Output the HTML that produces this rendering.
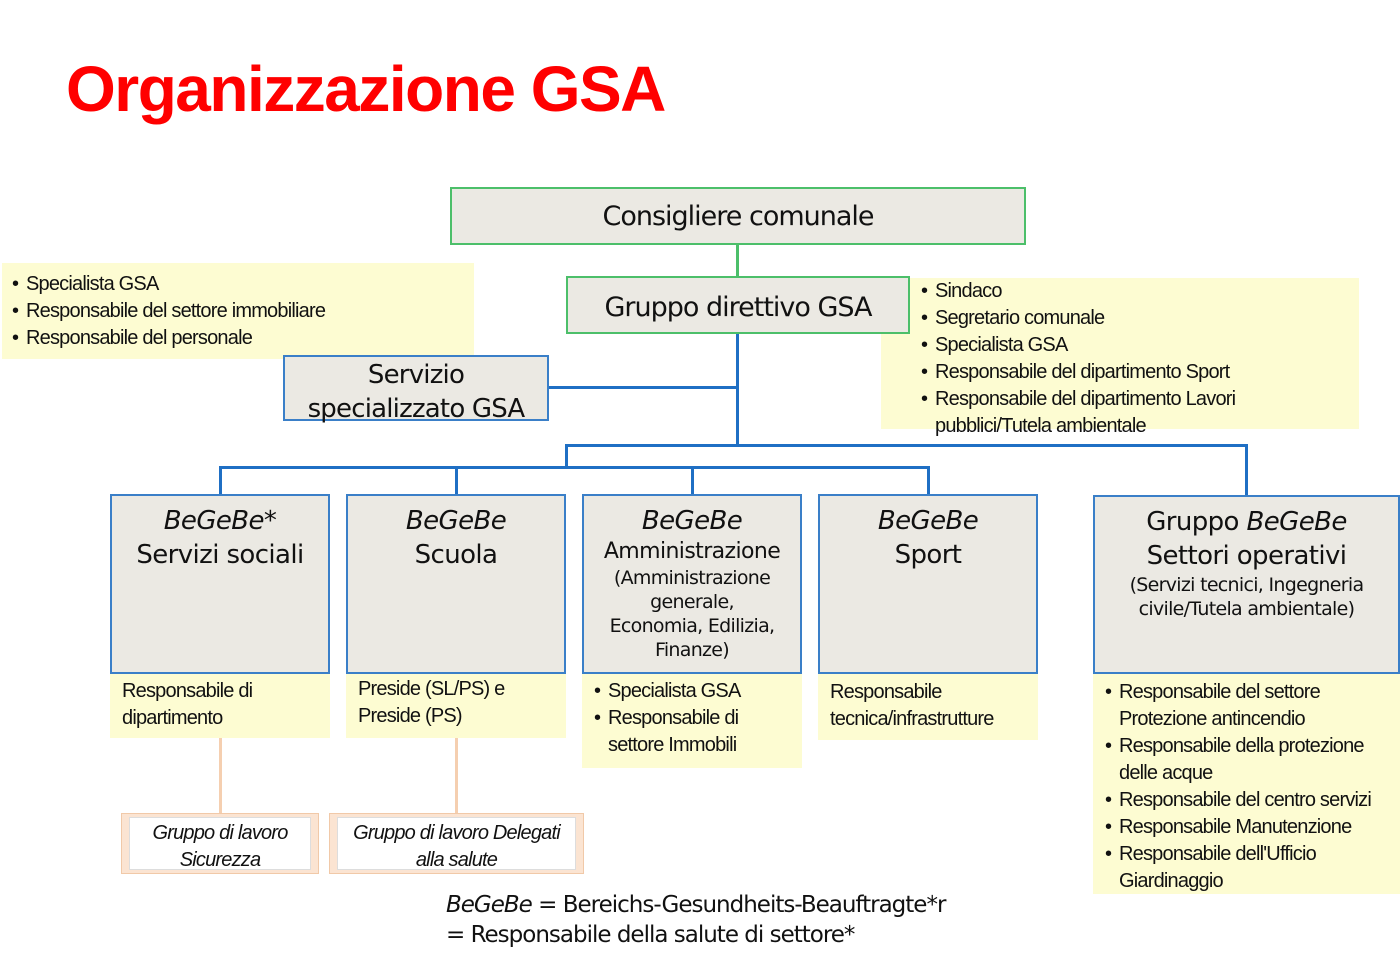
<!DOCTYPE html>
<html><head><meta charset="utf-8"><style>
body{margin:0;width:1400px;height:962px;background:#fff;position:relative;overflow:hidden;font-family:"DejaVu Sans","Liberation Sans",sans-serif;color:#111}
.a{position:absolute;box-sizing:border-box}
.box{background:#ebe9e3;text-align:center}
.g{border:2px solid #4cbf6a}
.b{border:2px solid #3a7fc8}
.y{background:#fdfcd2}
.n{font-family:"Liberation Sans",sans-serif;font-size:20px;line-height:27px;color:#111;letter-spacing:-0.8px}
.l{position:absolute;background:#1f6fc4}
ul{margin:0;padding:0 0 0 24px}
li{list-style:none;position:relative}
li:before{content:"•";position:absolute;left:-14px}
i{font-style:italic}
.t{font-size:26px;line-height:34px;letter-spacing:-0.6px}
.s{font-size:19px;line-height:24px;letter-spacing:-0.7px}
.wg{background:#fff;border:2px solid #fff;outline:1px solid #ddd;text-align:center;font-family:"Liberation Sans",sans-serif;font-style:italic;font-size:20px;line-height:27px;letter-spacing:-0.8px}
</style></head><body>
<div class="a" style="left:66px;top:52px;font-family:'Liberation Sans',sans-serif;font-weight:bold;color:#f00;font-size:64px;letter-spacing:-1.5px">Organizzazione GSA</div>

<!-- lines -->
<div class="l" style="left:736px;top:245px;width:3px;height:31px;background:#4cbf6a"></div>
<div class="l" style="left:736px;top:334px;width:3px;height:112px"></div>
<div class="l" style="left:548px;top:386px;width:190px;height:3px"></div>
<div class="l" style="left:565px;top:444px;width:683px;height:3px"></div>
<div class="l" style="left:1245px;top:444px;width:3px;height:52px"></div>
<div class="l" style="left:565px;top:444px;width:3px;height:24px"></div>
<div class="l" style="left:219px;top:466px;width:711px;height:3px"></div>
<div class="l" style="left:219px;top:466px;width:3px;height:29px"></div>
<div class="l" style="left:455px;top:466px;width:3px;height:29px"></div>
<div class="l" style="left:691px;top:466px;width:3px;height:29px"></div>
<div class="l" style="left:927px;top:466px;width:3px;height:29px"></div>
<div class="l" style="left:219px;top:738px;width:3px;height:76px;background:#f5cfb0"></div>
<div class="l" style="left:455px;top:738px;width:3px;height:76px;background:#f5cfb0"></div>

<div class="a y n" style="left:881px;top:278px;width:478px;height:151px;padding:0 0 0 30px"><ul><li>Sindaco</li><li>Segretario comunale</li><li>Specialista GSA</li><li>Responsabile del dipartimento Sport</li><li>Responsabile del dipartimento Lavori<br>pubblici/Tutela ambientale</li></ul></div>

<div class="a box g" style="left:450px;top:187px;width:576px;height:58px;font-size:27px;line-height:56px;letter-spacing:-1px">Consigliere comunale</div>
<div class="a box g" style="left:566px;top:276px;width:344px;height:58px;font-size:27px;line-height:60px;letter-spacing:-1px">Gruppo direttivo GSA</div>

<div class="a y n" style="left:2px;top:263px;width:472px;height:96px;padding:8px 0 0 0"><ul><li>Specialista GSA</li><li>Responsabile del settore immobiliare</li><li>Responsabile del personale</li></ul></div>
<div class="a box b" style="left:283px;top:355px;width:266px;height:66px;font-size:26px;line-height:34px;padding-top:1px;letter-spacing:-0.8px">Servizio<br>specializzato GSA</div>

<!-- columns -->
<div class="a box b t" style="left:110px;top:494px;width:220px;height:180px;padding-top:8px"><i>BeGeBe*</i><br>Servizi sociali</div>
<div class="a y n" style="left:110px;top:674px;width:220px;height:64px;padding:4px 0 0 12px">Responsabile di<br>dipartimento</div>

<div class="a box b t" style="left:346px;top:494px;width:220px;height:180px;padding-top:8px"><i>BeGeBe</i><br>Scuola</div>
<div class="a y n" style="left:346px;top:674px;width:220px;height:64px;padding:2px 0 0 12px">Preside (SL/PS) e<br>Preside (PS)</div>

<div class="a box b" style="left:582px;top:494px;width:220px;height:180px;padding-top:8px"><div class="t"><i>BeGeBe</i></div><div style="font-size:22px;line-height:28px;letter-spacing:-0.6px">Amministrazione</div><div class="s">(Amministrazione<br>generale,<br>Economia, Edilizia,<br>Finanze)</div></div>
<div class="a y n" style="left:582px;top:674px;width:220px;height:94px;padding:4px 0 0 2px"><ul><li>Specialista GSA</li><li>Responsabile di<br>settore Immobili</li></ul></div>

<div class="a box b t" style="left:818px;top:494px;width:220px;height:180px;padding-top:8px"><i>BeGeBe</i><br>Sport</div>
<div class="a y n" style="left:818px;top:674px;width:220px;height:66px;padding:5px 0 0 12px">Responsabile<br>tecnica/infrastrutture</div>

<div class="a box b" style="left:1093px;top:495px;width:307px;height:179px;padding-top:8px"><div class="t">Gruppo <i>BeGeBe</i><br>Settori operativi</div><div class="s">(Servizi tecnici, Ingegneria<br>civile/Tutela ambientale)</div></div>
<div class="a y n" style="left:1093px;top:674px;width:307px;height:220px;padding:5px 0 0 2px"><ul><li>Responsabile del settore<br>Protezione antincendio</li><li>Responsabile della protezione<br>delle acque</li><li>Responsabile del centro servizi</li><li>Responsabile Manutenzione</li><li>Responsabile dell'Ufficio<br>Giardinaggio</li></ul></div>

<div class="a" style="left:121px;top:813px;width:198px;height:61px;background:#fbe4d2;border:1px solid #f1c9a8;padding:6px 8px">
<div class="wg" style="height:47px;margin-top:-2px">Gruppo di lavoro<br>Sicurezza</div></div>
<div class="a" style="left:329px;top:813px;width:255px;height:61px;background:#fbe4d2;border:1px solid #f1c9a8;padding:6px 8px">
<div class="wg" style="height:47px;margin-top:-2px">Gruppo di lavoro Delegati<br>alla salute</div></div>

<div class="a" style="left:446px;top:890px;font-size:23px;line-height:30px;letter-spacing:-1px"><i>BeGeBe</i> = Bereichs-Gesundheits-Beauftragte*r<br>= Responsabile della salute di settore*</div>
</body></html>
